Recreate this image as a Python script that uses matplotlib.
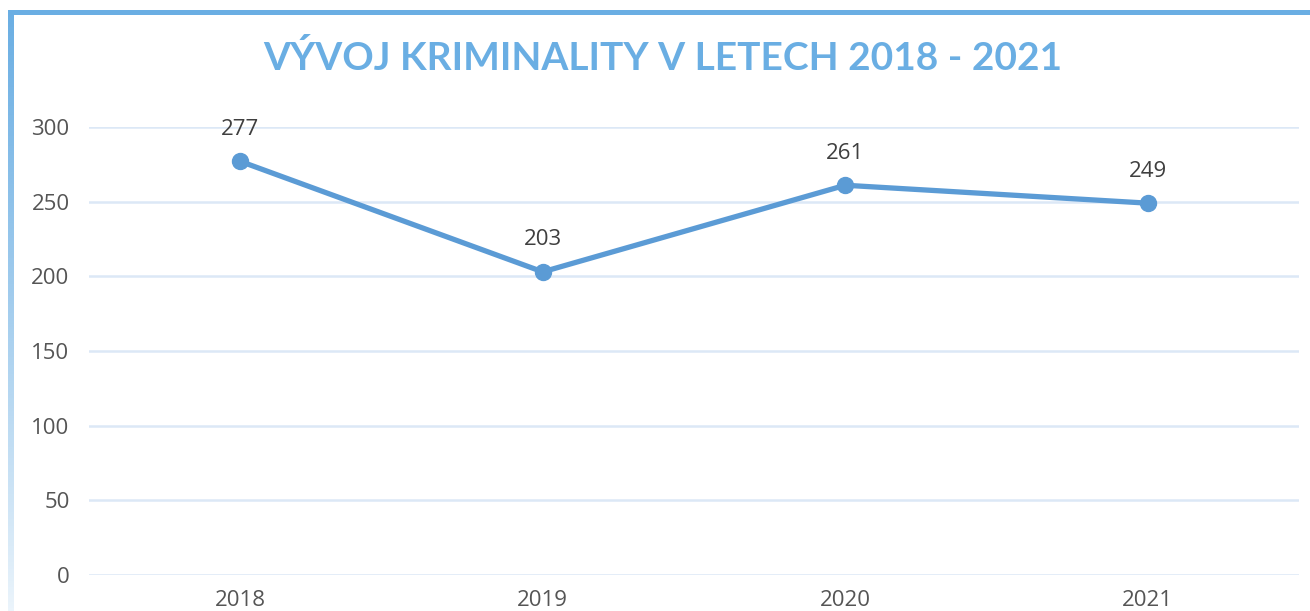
import matplotlib
matplotlib.use("Agg")
import matplotlib.pyplot as plt
import numpy as np
from matplotlib.patches import Rectangle

years = ["2018", "2019", "2020", "2021"]
values = [277, 203, 261, 249]
y_ticks = [0, 50, 100, 150, 200, 250, 300]
title = "VÝVOJ KRIMINALITY V LETECH 2018 - 2021"

W, H = 1310, 611
fig = plt.figure(figsize=(W / 100, H / 100), dpi=100)
fig.patch.set_facecolor("white")

line_color = "#5B9BD5"
accent = "#6AAEE3"
grid_color = "#DCE8F6"
tick_color = "#555555"
label_color = "#3F3F3F"
font = "Open Sans"

ax = fig.add_axes([89 / W, 36 / H, 1210 / W, 448 / H])
x = np.arange(len(years))
ax.plot(x, values, color=line_color, lw=3.8, marker="o", markersize=11.5,
        solid_capstyle="round", zorder=3)
for xi, v in zip(x, values):
    ax.annotate(str(v), (xi, v), xytext=(0, 23), textcoords="offset points",
                ha="center", va="center", fontsize=16, color=label_color,
                family=font)

ax.set_xlim(-0.5, len(years) - 0.5)
ax.set_ylim(0, 300)
ax.set_yticks(y_ticks)
ax.set_xticks(x)
ax.set_xticklabels(years)
for s in ax.spines.values():
    s.set_visible(False)
ax.tick_params(length=0, labelsize=16, labelcolor=tick_color)
ax.tick_params(axis="y", pad=14)
ax.tick_params(axis="x", pad=11)
for lab in ax.get_xticklabels() + ax.get_yticklabels():
    lab.set_family(font)
ax.yaxis.grid(True, color=grid_color, lw=1.8)
ax.set_axisbelow(True)

# border: top bar
fig.add_artist(Rectangle((8 / W, (H - 14.5) / H), (W - 8) / W, 5 / H,
                         transform=fig.transFigure, color=accent, lw=0, zorder=5))
# left bar with fading gradient
gax = fig.add_axes([8 / W, 0, 6 / W, (H - 10) / H])
gax.axis("off")
n = 256
alpha = np.linspace(1.0, 0.08, n) ** 0.8
rgb = matplotlib.colors.to_rgb(accent)
img = np.zeros((n, 1, 4))
img[:, 0, :3] = rgb
img[:, 0, 3] = alpha
gax.imshow(img, aspect="auto", extent=(0, 1, 0, 1), origin="upper")

# title, fit to width
t = fig.text(663 / W, (H - 58) / H, title, ha="center", va="center",
             fontsize=28, fontweight="bold", color=accent, family="Lato")
fig.canvas.draw()
bb = t.get_window_extent()
t.set_fontsize(28 * 800 / bb.width)

fig.savefig("out.png", dpi=100, facecolor="white")
